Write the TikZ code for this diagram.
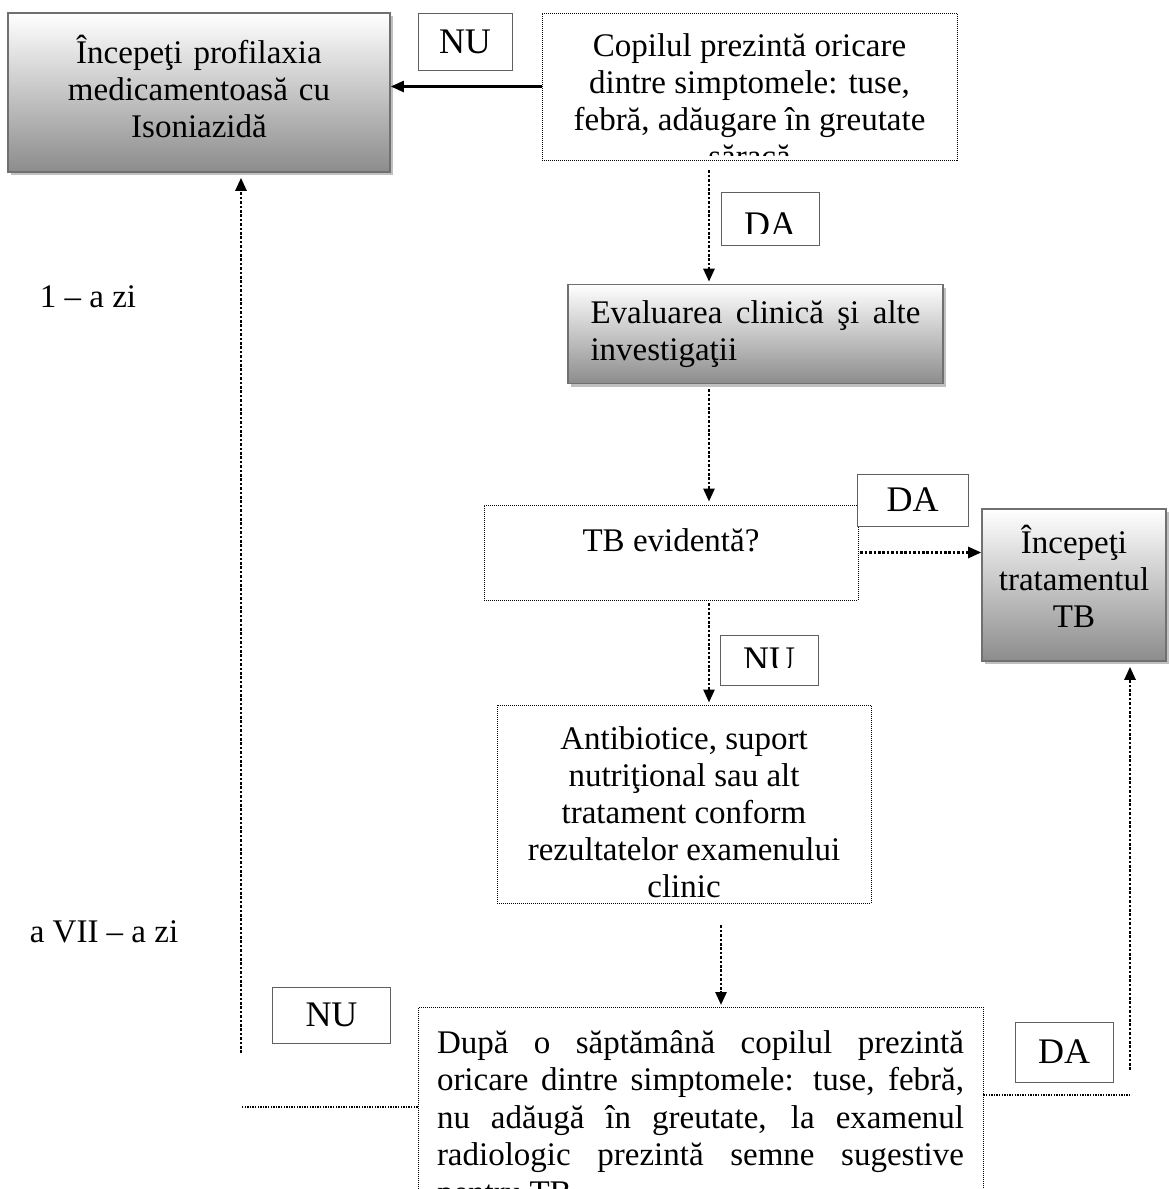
\documentclass[tikz,border=0pt]{standalone}
\usepackage{fontspec}
\setmainfont{Liberation Serif}
\usepackage{tikz}
\usetikzlibrary{arrows.meta,positioning,calc,shadows}
\usepackage{xcolor}
\definecolor{boxgray}{RGB}{112,112,112}
\definecolor{shadegray}{RGB}{140,140,140}
\definecolor{shadowgray}{RGB}{192,192,192}
\definecolor{tagborder}{RGB}{96,96,96}

\begin{document}
\begin{tikzpicture}[x=1pt, y=-1pt,
  every node/.style={font=\fontsize{33}{37}\selectfont, inner sep=0pt},
  shadebox/.style={draw=boxgray, line width=1.6pt, top color=white, bottom color=shadegray, drop shadow={shadow xshift=3pt, shadow yshift=-3pt, fill=shadowgray, opacity=1}, align=center},
  dotbox/.style={draw=black, line width=0.9pt, dash pattern=on 1pt off 1pt, align=center},
  tagbox/.style={draw=tagborder, line width=0.9pt, fill=white, font=\fontsize{36}{40}\selectfont},
  dotarrow/.style={line width=2.6pt, dash pattern=on 2.6pt off 1.8pt, -{Triangle[length=13pt,width=11pt]}},
  dotline/.style={line width=1.3pt, dash pattern=on 1.3pt off 1.3pt},
  solidarrow/.style={line width=2.4pt, -{Triangle[length=13pt,width=11pt]}}]
\useasboundingbox (0,0) rectangle (1168,1189);

% boxes
\node[shadebox, minimum width=382pt, minimum height=159pt, text width=370pt] (profil) at (199,92.5) {Începeţi profilaxia\\ medicamentoasă cu\\ Isoniazidă\\[-25pt]\mbox{}};
\node[dotbox, minimum width=415pt, minimum height=147pt] (simpt) at (749.5,86.5) {};
\begin{scope}
  \clip (simpt.north west) rectangle ([yshift=5pt]simpt.south east);
  \node[align=center] (simpttxt) at ([yshift=-14pt]simpt.center) {Copilul prezintă oricare\\ dintre simptomele: tuse,\\ febră, adăugare în greutate\\ săracă};
\end{scope}
\node[shadebox, minimum width=375pt, minimum height=99pt, text width=330pt, align=justify] (eval) at (755.5,334) {Evaluarea clinică şi alte\linebreak investigaţii};
\node[dotbox, minimum width=374pt, minimum height=95pt] (tbq) at (671,552.5) {TB evidentă?\\[-12pt]\mbox{}};
\node[shadebox, minimum width=184pt, minimum height=152pt, text width=180pt] (trat) at (1074,585) {Începeţi\\ tratamentul\\ TB\\[-19pt]\mbox{}};
\node[dotbox, minimum width=374pt, minimum height=198pt] (antib) at (684,804) {\mbox{}\\[2pt]Antibiotice, suport\\ nutriţional sau alt\\ tratament conform\\ rezultatelor examenului\\ clinic};
\node[dotbox, anchor=north, text width=527pt, align=justify, inner xsep=19pt, inner ysep=23pt, font=\fontsize{33}{37.4}\selectfont] (after) at (700.5,1007) {După o săptămână copilul prezintă\linebreak oricare dintre simptomele: tuse, febră,\linebreak nu adăugă în greutate, la examenul\linebreak radiologic prezintă semne sugestive\linebreak pentru TB};

% NU / DA tags
\node[tagbox, minimum width=94pt, minimum height=57pt] (nu1) at (465,41.5) {NU};
\node[tagbox, minimum width=98pt, minimum height=53pt] (da1) at (770,219) {};
\begin{scope}
  \clip (da1.north west) rectangle ([yshift=12pt]da1.south east);
  \node[font=\fontsize{36}{40}\selectfont] (da1txt) at ([yshift=-5.5pt]da1.center) {DA};
\end{scope}
\node[tagbox, minimum width=111pt, minimum height=52pt] (da2) at (912.5,500) {DA};
\node[tagbox, minimum width=98pt, minimum height=50pt] (nu2) at (769,660) {};
\begin{scope}
  \clip (nu2.north west) rectangle ([yshift=18pt]nu2.south east);
  \node[font=\fontsize{36}{40}\selectfont] (nu2txt) at (nu2.center) {NU};
\end{scope}
\node[tagbox, minimum width=118pt, minimum height=56pt] (nu3) at (331.5,1015) {NU};
\node[tagbox, minimum width=98pt, minimum height=60pt] (da3) at (1064,1052) {DA};

% days
\node (day1) at (88,297) {1 – a zi};
\node (day7) at (104,932) {a VII – a zi};

% connectors
\coordinate (spine) at (709,0);
\coordinate (spine2) at (721,0);
\coordinate (lc) at (241,1107);
\coordinate (rc) at (1130,1095);
\draw[solidarrow] (simpt.west) -- (simpt.west -| profil.east);
\draw[dotarrow, shorten <=10pt, shorten >=2pt] (simpt.south -| spine) -- (eval.north -| spine);
\draw[dotarrow, shorten <=5pt, shorten >=3pt] (eval.south -| spine) -- (tbq.north -| spine);
\draw[dotarrow, shorten <=2pt] (tbq.east) -- (tbq.east -| trat.west);
\draw[dotarrow, shorten <=3pt, shorten >=2pt] (tbq.south -| spine) -- (antib.north -| spine);
\draw[dotarrow, shorten <=22pt, shorten >=2pt] (antib.south -| spine2) -- (after.north -| spine2);
\draw[dotline] (after.west |- lc) -- (lc);
\draw[dotarrow, shorten >=5pt] ([yshift=54pt]lc) -- (lc |- profil.south);
\draw[dotline] (after.east |- rc) -- (rc);
\draw[dotarrow, shorten >=5pt] ([yshift=25pt]rc) -- (rc |- trat.south);
\end{tikzpicture}
\end{document}
